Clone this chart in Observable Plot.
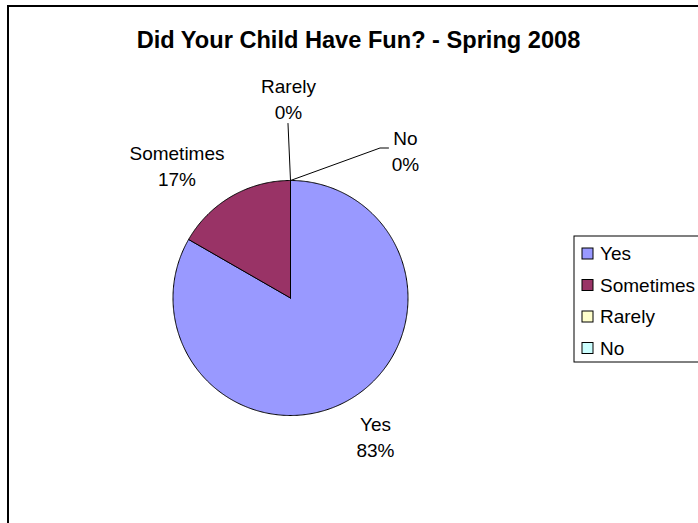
<!DOCTYPE html>
<html><head><meta charset="utf-8">
<script src="https://cdn.jsdelivr.net/npm/d3@7"></script>
<script src="https://cdn.jsdelivr.net/npm/@observablehq/plot@0.6"></script>
<style>
html,body{margin:0;padding:0;background:#fff;}
#chart svg{display:block;overflow:hidden;}
</style>
</head><body><div id="chart"></div>
<script>
// ---- data ----
const title = "Did Your Child Have Fun? - Spring 2008";
const categories = ["Yes", "Sometimes", "Rarely", "No"];
const percents = [83.3, 16.7, 0, 0];
const colors = ["#9999FF", "#993366", "#FFFFCC", "#CCFFFF"];

// ---- layout ----
const W = 698, H = 523;
const CX = 290, CY = 297.5, R = 117.5;
const FONT = "'Liberation Sans', Arial, sans-serif";
const labelPos = {
  Yes: [375, 413],
  Sometimes: [176.5, 142],
  Rarely: [288, 75],
  No: [405, 127]
};
const leaderEnds = {
  Rarely: [[287.5, 123]],
  No: [[379.5, 147.5], [388, 147.5]]
};
const legend = {x1: 574, y1: 236, y2: 362, swX: 582, sw: 11, textX: 599.5, row0: 253.5, step: 31.5};

// ---- derived ----
const data = categories.map((c, i) => ({category: c, value: percents[i]}));
const arcs = d3.pie().sort(null).value(d => d.value)(data);
const pt = (a, r) => ({x: CX + r * Math.sin(a), y: CY - r * Math.cos(a)});

const slicePts = [];
arcs.forEach(a => {
  if (a.endAngle - a.startAngle <= 0) return;
  const cat = a.data.category;
  slicePts.push({cat, x: CX, y: CY});
  const n = Math.max(2, Math.ceil((a.endAngle - a.startAngle) / 0.01));
  for (let k = 0; k <= n; k++) {
    const t = a.startAngle + (a.endAngle - a.startAngle) * k / n;
    slicePts.push({cat, ...pt(t, R)});
  }
  slicePts.push({cat, x: CX, y: CY});
});

const labels = arcs.map(a => ({
  cat: a.data.category,
  text: a.data.category + "\n" + Math.round(a.data.value) + "%",
  x: labelPos[a.data.category][0],
  y: labelPos[a.data.category][1]
}));

const leaders = [];
arcs.forEach(a => {
  const cat = a.data.category;
  if (!leaderEnds[cat]) return;
  const mid = (a.startAngle + a.endAngle) / 2;
  leaders.push({cat, ...pt(mid, R)});
  leaderEnds[cat].forEach(([x, y]) => leaders.push({cat, x, y}));
});

const legendRows = categories.map((c, i) => ({cat: c, y: legend.row0 + i * legend.step}));

const chart = Plot.plot({
  width: W, height: H, margin: 0,
  style: {fontFamily: FONT, background: "white"},
  x: {domain: [0, W], range: [0, W], axis: null},
  y: {domain: [0, H], range: [0, H], axis: null},
  color: {domain: categories, range: colors},
  marks: [
    // chart frame
    Plot.rect([0], {x1: 8, x2: W + 20, y1: 6, y2: H + 20, fill: "none", stroke: "black", strokeWidth: 2}),
    // title
    Plot.text([title], {x: 358, y: 47, text: d => d, fontSize: 23.6, fontWeight: "bold", textAnchor: "middle", lineAnchor: "bottom", fill: "black"}),
    // pie slices
    Plot.line(slicePts, {x: "x", y: "y", z: "cat", fill: "cat", stroke: "black", strokeWidth: 1, strokeLinejoin: "miter"}),
    // leader lines
    Plot.line(leaders, {x: "x", y: "y", z: "cat", stroke: "black", strokeWidth: 1}),
    // slice labels
    Plot.text(labels, {x: "x", y: "y", text: "text", fontSize: 19, lineAnchor: "top", lineHeight: 1.33, fill: "black"}),
    // legend box
    Plot.rect([0], {x1: legend.x1, x2: W + 20, y1: legend.y1, y2: legend.y2, fill: "white", stroke: "black", strokeWidth: 1}),
    Plot.rect(legendRows, {
      x1: legend.swX, x2: legend.swX + legend.sw,
      y1: d => d.y - legend.sw / 2, y2: d => d.y + legend.sw / 2,
      fill: "cat", stroke: "black", strokeWidth: 1
    }),
    Plot.text(legendRows, {x: legend.textX, y: "y", text: "cat", textAnchor: "start", fontSize: 19, fill: "black"})
  ]
});
document.getElementById("chart").append(chart);
</script>
</body></html>
